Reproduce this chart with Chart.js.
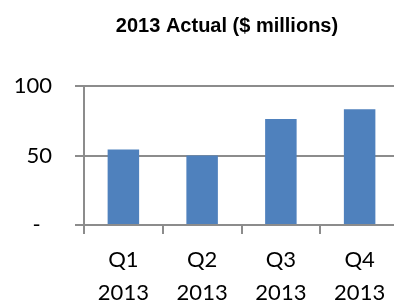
<!DOCTYPE html>
<html>
<head>
<meta charset="utf-8">
<script src="https://cdn.jsdelivr.net/npm/chart.js@4/dist/chart.umd.min.js"></script>
<style>
html, body { margin: 0; padding: 0; overflow: hidden; background: #fff; width: 394px; height: 303px; }
#wrap { position: absolute; left: 0; top: 0; }
</style>
</head>
<body>
<div id="wrap"><canvas id="c" width="440" height="320"></canvas></div>
<script>
const chartTitle = "2013 Actual ($ millions)";
const categories = [["Q1", "2013"], ["Q2", "2013"], ["Q3", "2013"], ["Q4", "2013"]];
const actualValues = [54.3, 50.0, 76.2, 83.3];
const yTickValues = [0, 50, 100];
const yTickLabels = ["-\u00A0\u00A0", "50", "100"];

const gridGray = "#8c8c8c";

// centre the title over the region the original chart used
const titleSpan = {
  id: "titleSpan",
  afterLayout(chart) {
    const t = chart.titleBlock;
    if (t) { t.left = 55; t.right = 399; t.width = t.right - t.left; }
  }
};

new Chart(document.getElementById("c"), {
  type: "bar",
  data: {
    labels: categories,
    datasets: [{
      label: "2013 Actual",
      data: actualValues,
      backgroundColor: "#4F81BD",
      borderWidth: 0,
      categoryPercentage: 1.0,
      barPercentage: 0.4
    }]
  },
  plugins: [titleSpan],
  options: {
    responsive: false,
    animation: false,
    devicePixelRatio: 1,
    layout: { padding: { left: 14, right: 41, top: 0, bottom: 2 } },
    plugins: {
      legend: { display: false },
      tooltip: { enabled: false },
      title: {
        display: true,
        text: chartTitle,
        color: "#000",
        font: { family: "'Liberation Sans', Arial, sans-serif", size: 20, weight: "bold", lineHeight: 1.2 },
        padding: { top: 14, bottom: 48 }
      }
    },
    scales: {
      x: {
        offset: true,
        grid: {
          display: true,
          offset: true,
          drawOnChartArea: false,
          drawTicks: true,
          tickLength: 9,
          color: gridGray,
          lineWidth: 2
        },
        border: { display: true, color: gridGray, width: 2 },
        ticks: {
          color: "#000",
          padding: 9,
          maxRotation: 0,
          autoSkip: false,
          font: { family: "Lato, 'Open Sans', sans-serif", size: 22, lineHeight: 1.5 }
        }
      },
      y: {
        min: 0,
        max: 100,
        afterBuildTicks: (scale) => { scale.ticks = yTickValues.map(v => ({ value: v })); },
        afterFit: (scale) => { scale.width = 70; },
        grid: {
          color: gridGray,
          lineWidth: 2,
          drawTicks: true,
          tickLength: 9
        },
        border: { display: true, color: gridGray, width: 2 },
        ticks: {
          color: "#000",
          padding: 23,
          font: { family: "Lato, 'Open Sans', sans-serif", size: 22 },
          callback: (value) => {
            const i = yTickValues.indexOf(value);
            return i >= 0 ? yTickLabels[i] : "";
          }
        }
      }
    }
  }
});
</script>
</body>
</html>
